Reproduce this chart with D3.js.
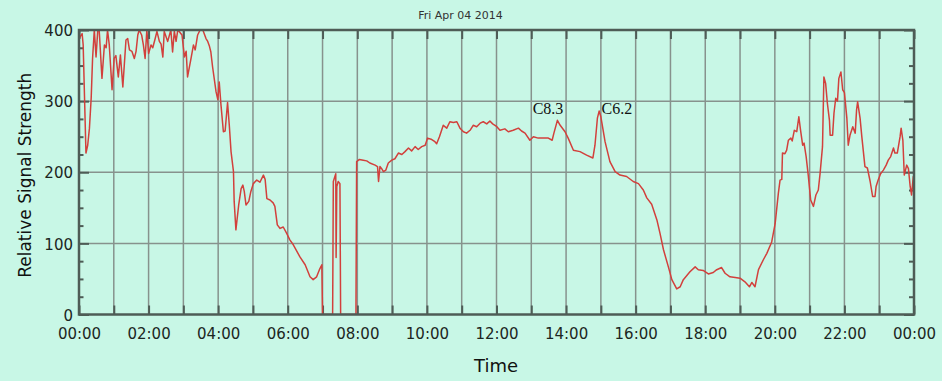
<!DOCTYPE html>
<html lang="en">
<head>
    <title>Relative Signal Strength - Fri Apr 04 2014</title>
    <meta charset="utf-8"/>
    <script src="https://d3js.org/d3.v7.min.js"></script>
    <style>
        body { margin: 0; background: #c8f7e6; }
        svg { display: block; font-family: "DejaVu Sans", sans-serif; }
        .domain { display: none; }
    </style>
</head>
<body>

<div id="viz">
    <svg width="942" height="381"></svg>
</div>

<script type="text/javascript">

    // datos: hora del día y señal relativa
    const hours = [
        0.00, 0.09, 0.12, 0.20, 0.25, 0.30, 0.35, 0.39, 0.44, 0.49, 0.54, 0.58, 0.66, 0.73, 0.78, 0.82, 0.87, 0.95,
        1.01, 1.06, 1.13, 1.19, 1.26, 1.35, 1.40, 1.45, 1.52, 1.59, 1.64, 1.69, 1.73, 1.80, 1.85, 1.90, 1.95,
        2.00, 2.07, 2.12, 2.19, 2.24, 2.31, 2.36, 2.41, 2.45, 2.55, 2.64, 2.69, 2.74, 2.79, 2.84, 2.88, 2.96,
        3.03, 3.08, 3.12, 3.22, 3.29, 3.34, 3.41, 3.48, 3.56, 3.65, 3.70, 3.75, 3.79, 3.84, 3.94, 3.99,
        4.03, 4.08, 4.15, 4.20, 4.27, 4.32, 4.37, 4.44, 4.46, 4.51, 4.59, 4.66, 4.71, 4.75, 4.80, 4.88, 4.94,
        5.01, 5.11, 5.20, 5.30, 5.35, 5.40, 5.49, 5.58, 5.63, 5.70, 5.78, 5.87, 5.97,
        6.06, 6.16, 6.35, 6.50, 6.64, 6.73, 6.83, 6.91, 6.98,
        7.00, 7.29, 7.31, 7.38, 7.39, 7.41, 7.45, 7.50, 7.52, 7.96, 7.98,
        8.06, 8.17, 8.27, 8.36, 8.51, 8.58, 8.61, 8.65, 8.70, 8.75, 8.82, 8.89, 8.99,
        9.08, 9.18, 9.28, 9.37, 9.47, 9.56, 9.66, 9.75, 9.85, 9.95,
        10.02, 10.14, 10.23, 10.28, 10.36, 10.47, 10.57, 10.66, 10.76, 10.86, 10.95,
        11.05, 11.14, 11.24, 11.33, 11.43, 11.53, 11.62, 11.72, 11.81, 11.89,
        12.01, 12.10, 12.24, 12.34, 12.48, 12.63, 12.72, 12.82, 12.96,
        13.06, 13.20, 13.35, 13.49, 13.60, 13.65, 13.75, 13.83, 13.97,
        14.06, 14.21, 14.40, 14.59, 14.77, 14.83, 14.90, 14.95,
        15.00, 15.12, 15.26, 15.41, 15.55, 15.74, 15.93,
        16.08, 16.22, 16.32, 16.46, 16.61, 16.70, 16.80, 16.94,
        17.04, 17.18, 17.28, 17.37, 17.56, 17.71, 17.80, 17.94,
        18.09, 18.23, 18.33, 18.47, 18.57, 18.71, 18.86,
        19.00, 19.14, 19.27, 19.34, 19.43, 19.53, 19.67, 19.77, 19.91,
        20.01, 20.10, 20.15, 20.20, 20.22, 20.29, 20.34, 20.39, 20.46, 20.50, 20.56, 20.63, 20.69, 20.74, 20.80,
        20.84, 20.90, 20.96,
        21.03, 21.11, 21.18, 21.25, 21.30, 21.37, 21.41, 21.46, 21.51, 21.57, 21.59, 21.66, 21.70, 21.75, 21.80,
        21.84, 21.90, 21.95,
        22.00, 22.07, 22.11, 22.16, 22.24, 22.31, 22.35, 22.38, 22.45, 22.50, 22.59, 22.66, 22.74, 22.81, 22.88,
        22.91, 22.97,
        23.04, 23.12, 23.20, 23.26, 23.33, 23.41, 23.45, 23.52, 23.60, 23.63, 23.68, 23.72, 23.79, 23.84, 23.89,
        23.93, 23.98, 24.00
    ];
    const strength = [
        388, 395, 379, 227, 238, 262, 304, 360, 400, 362, 400, 400, 332, 379, 375, 400, 379, 316,
        360, 364, 334, 365, 320, 386, 388, 372, 370, 360, 370, 393, 400, 393, 379, 360, 400,
        367, 379, 375, 388, 398, 384, 380, 362, 398, 384, 400, 369, 398, 384, 400, 398, 393,
        362, 370, 334, 360, 379, 372, 393, 400, 400, 388, 384, 377, 369, 348, 313, 302,
        327, 295, 257, 258, 298, 266, 229, 201, 159, 119, 154, 177, 182, 173, 154, 159, 173,
        184, 189, 186, 196, 190, 163, 161, 157, 152, 126, 121, 123, 114,
        105, 98, 81, 70, 53, 49, 53, 63, 70,
        0, 0, 187, 198, 80, 180, 187, 184, 0, 0, 215,
        218, 217, 216, 213, 210, 208, 187, 208, 205, 201, 203, 213, 217,
        219, 227, 225, 229, 234, 230, 236, 232, 236, 238,
        248, 246, 243, 240, 250, 266, 262, 271, 270, 271, 262,
        257, 255, 259, 266, 264, 269, 271, 268, 272, 268,
        264, 259, 261, 257, 259, 262, 258, 255, 245,
        250, 248, 248, 248, 245, 255, 273, 266, 257,
        248, 231, 229, 224, 220, 238, 276, 286,
        278, 243, 215, 201, 196, 194, 187,
        184, 175, 164, 155, 133, 114, 91, 67,
        49, 36, 39, 49, 60, 67, 63, 62,
        57, 59, 63, 66, 58, 53, 52,
        51, 46, 39, 45, 39, 63, 77, 86, 102,
        128, 170, 189, 190, 227, 226, 231, 245, 248, 244, 259, 257, 278, 259, 238,
        241, 222, 196,
        161, 152, 168, 175, 198, 236, 334, 325, 297, 273, 252, 252, 283, 304, 300,
        332, 341, 316,
        312, 276, 238, 252, 264, 255, 288, 299, 276, 250, 208, 206, 187, 166, 166,
        180, 189,
        198, 203, 210, 217, 222, 234, 227, 227, 250, 262, 245, 196, 210, 205, 180,
        168, 194, 166
    ];

    // etiquetas de fulguraciones
    const flareLabels = ["C8.3", "C6.2"];
    const flareHours = [13.04, 15.02];
    const flareLevels = [282, 282];

    const yTicks = [0, 100, 200, 300, 400];
    const title = "Fri Apr 04 2014";

    // valores que uso más abajo
    const plotLeft = 79, plotTop = 30, plotRight = 914, plotBottom = 314.5;
    const frameColor = "#4e5c56", gridColor = "#87928d";

    const svg = d3.select("svg");

    let xScale = d3.scaleLinear().domain([0, 24]).range([plotLeft, plotRight]);
    let yScale = d3.scaleLinear().domain([0, 400]).range([plotBottom, plotTop]);

    // rejilla
    svg.append("g")
        .selectAll("line")
        .data(d3.range(1, 24))
        .join("line")
        .attr("x1", d => xScale(d)).attr("x2", d => xScale(d))
        .attr("y1", plotTop).attr("y2", plotBottom)
        .attr("stroke", gridColor)
        .attr("stroke-width", 1.5);

    svg.append("g")
        .selectAll("line")
        .data(yTicks.slice(1, -1))
        .join("line")
        .attr("x1", plotLeft).attr("x2", plotRight)
        .attr("y1", d => yScale(d)).attr("y2", d => yScale(d))
        .attr("stroke", gridColor)
        .attr("stroke-width", 1.5);

    // marcas de los ejes (hacia adentro)
    const hourTicks = d3.range(0, 25);
    const minorY = d3.range(0, 401, 25).filter(d => d % 100 !== 0);

    function tickAxis(axis, transform) {
        const g = svg.append("g")
            .attr("transform", transform)
            .call(axis);
        g.selectAll("text").remove();
        g.selectAll(".tick line").attr("stroke", frameColor).attr("stroke-width", 2);
        return g;
    }

    tickAxis(d3.axisTop(xScale).tickValues(hourTicks).tickSize(-9), "translate(0," + plotTop + ")");
    tickAxis(d3.axisBottom(xScale).tickValues(hourTicks).tickSize(-9), "translate(0," + plotBottom + ")");
    tickAxis(d3.axisLeft(yScale).tickValues(minorY).tickSize(-4.5), "translate(" + plotLeft + ",0)");
    tickAxis(d3.axisLeft(yScale).tickValues(yTicks).tickSize(-10), "translate(" + plotLeft + ",0)");
    tickAxis(d3.axisRight(yScale).tickValues(minorY).tickSize(-5), "translate(" + plotRight + ",0)");
    tickAxis(d3.axisRight(yScale).tickValues(yTicks).tickSize(-10), "translate(" + plotRight + ",0)");

    // etiquetas de los ejes
    let xLabels = svg.append("g")
        .attr("transform", "translate(0," + plotBottom + ")")
        .call(d3.axisBottom(xScale)
            .tickValues(d3.range(0, 25, 2))
            .tickSize(0).tickPadding(14)
            .tickFormat(d => d3.format("02")(d % 24) + ":00"));

    let yLabels = svg.append("g")
        .attr("transform", "translate(" + plotLeft + ",0)")
        .call(d3.axisLeft(yScale).tickValues(yTicks).tickSize(0).tickPadding(6));

    svg.selectAll(".tick text")
        .attr("font-family", "'DejaVu Sans', sans-serif")
        .attr("font-size", 15)
        .attr("fill", "#1c2622");
    yLabels.selectAll("text").attr("dy", "0.38em");

    // la curva
    const data = hours.map((h, i) => ({h: h, v: strength[i]}));

    svg.append("clipPath").attr("id", "plot")
        .append("rect")
        .attr("x", plotLeft).attr("y", plotTop - 1)
        .attr("width", plotRight - plotLeft).attr("height", plotBottom - plotTop + 1);

    let line = d3.line()
        .x(d => xScale(d.h))
        .y(d => yScale(d.v));

    svg.append("path")
        .attr("d", line(data))
        .attr("clip-path", "url(#plot)")
        .attr("fill", "none")
        .attr("stroke", "#d2403c")
        .attr("stroke-width", 1.5)
        .attr("stroke-linejoin", "round");

    // marco
    svg.append("rect")
        .attr("x", plotLeft).attr("y", plotTop)
        .attr("width", plotRight - plotLeft).attr("height", plotBottom - plotTop)
        .attr("fill", "none")
        .attr("stroke", frameColor)
        .attr("stroke-width", 2.5);

    // anotaciones
    svg.append("g")
        .selectAll("text")
        .data(flareLabels)
        .join("text")
        .attr("x", (d, i) => xScale(flareHours[i]))
        .attr("y", (d, i) => yScale(flareLevels[i]))
        .attr("font-family", "'Liberation Serif', serif")
        .attr("font-size", 16)
        .attr("fill", "#111")
        .text(d => d);

    // títulos
    svg.append("text")
        .attr("x", (plotLeft + plotRight) / 2 - 36).attr("y", 19)
        .attr("text-anchor", "middle")
        .attr("font-size", 11)
        .attr("fill", "#333")
        .text(title);

    svg.append("text")
        .attr("x", 496).attr("y", 372)
        .attr("text-anchor", "middle")
        .attr("font-size", 18)
        .attr("fill", "#111")
        .text("Time");

    svg.append("text")
        .attr("transform", "translate(31," + ((plotTop + plotBottom) / 2 + 3) + ") rotate(-90)")
        .attr("text-anchor", "middle")
        .attr("font-size", 17)
        .attr("fill", "#111")
        .text("Relative Signal Strength");

</script>
</body>
</html>
